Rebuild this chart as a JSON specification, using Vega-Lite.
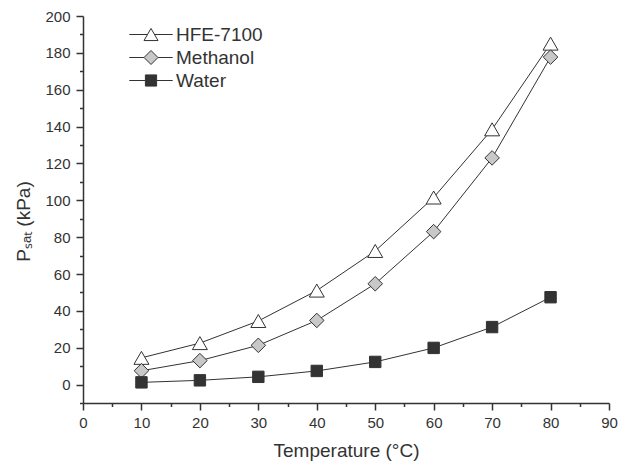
{
  "$schema": "https://vega.github.io/schema/vega-lite/v6.json",
  "width": 526,
  "height": 387,
  "autosize": {"type": "none"},
  "padding": {"left": 83, "top": 16, "right": 18, "bottom": 62},
  "background": "white",
  "config": {
    "view": {"stroke": null},
    "font": "Liberation Sans",
    "axis": {
      "labelFont": "Liberation Sans",
      "titleFont": "Liberation Sans",
      "labelColor": "#333333",
      "titleColor": "#333333",
      "domainColor": "#333333",
      "tickColor": "#333333",
      "grid": false,
      "labelFontSize": 15,
      "titleFontSize": 19,
      "titleFontWeight": "normal",
      "domainWidth": 1.5,
      "tickWidth": 1.5
    }
  },
  "data": {
    "values": [
      {"T": 10, "fluid": "HFE-7100", "P": 14.5},
      {"T": 20, "fluid": "HFE-7100", "P": 22.5},
      {"T": 30, "fluid": "HFE-7100", "P": 34.5},
      {"T": 40, "fluid": "HFE-7100", "P": 51},
      {"T": 50, "fluid": "HFE-7100", "P": 72.5},
      {"T": 60, "fluid": "HFE-7100", "P": 101.5},
      {"T": 70, "fluid": "HFE-7100", "P": 138.5},
      {"T": 80, "fluid": "HFE-7100", "P": 185},
      {"T": 10, "fluid": "Methanol", "P": 7.5},
      {"T": 20, "fluid": "Methanol", "P": 13},
      {"T": 30, "fluid": "Methanol", "P": 21.3},
      {"T": 40, "fluid": "Methanol", "P": 34.8},
      {"T": 50, "fluid": "Methanol", "P": 54.7},
      {"T": 60, "fluid": "Methanol", "P": 83},
      {"T": 70, "fluid": "Methanol", "P": 123},
      {"T": 80, "fluid": "Methanol", "P": 177.7},
      {"T": 10, "fluid": "Water", "P": 1.2},
      {"T": 20, "fluid": "Water", "P": 2.3},
      {"T": 30, "fluid": "Water", "P": 4.2},
      {"T": 40, "fluid": "Water", "P": 7.4},
      {"T": 50, "fluid": "Water", "P": 12.3},
      {"T": 60, "fluid": "Water", "P": 19.9},
      {"T": 70, "fluid": "Water", "P": 31.2},
      {"T": 80, "fluid": "Water", "P": 47.4}
    ]
  },
  "layer": [
    {
      "mark": {"type": "line", "stroke": "#333333", "strokeWidth": 1},
      "encoding": {
        "x": {
          "field": "T", "type": "quantitative",
          "scale": {"domain": [0, 90], "nice": false, "zero": false},
          "axis": {"values": [0, 10, 20, 30, 40, 50, 60, 70, 80, 90], "title": "Temperature (°C)", "tickSize": 7, "labelPadding": 5, "titlePadding": 11, "labelFlush": false}
        },
        "y": {
          "field": "P", "type": "quantitative",
          "scale": {"domain": [-10, 200], "nice": false, "zero": false},
          "axis": {"values": [0, 20, 40, 60, 80, 100, 120, 140, 160, 180, 200], "title": "Pₛₐₜ (kPa)", "tickSize": 7, "labelPadding": 6, "titlePadding": 11, "titleY": 205, "labelFlush": false}
        },
        "detail": {"field": "fluid"}
      }
    },
    {
      "mark": {"type": "point", "filled": true, "size": 1, "opacity": 1, "stroke": "#333333", "strokeWidth": 1},
      "encoding": {
        "x": {"field": "T", "type": "quantitative", "axis": null},
        "y": {"field": "P", "type": "quantitative", "axis": null},
        "shape": {
          "field": "fluid", "type": "nominal",
          "scale": {"domain": ["HFE-7100", "Methanol", "Water"], "range": [
            "M-3.1,0H-0.5M0.5,0H3.1M0,-0.866L1,0.866L-1,0.866Z",
            "M-3.1,0H-1M1,0H3.1M0,-1L1,0L0,1L-1,0Z",
            "M-3.1,0H-0.8M0.8,0H3.1M-0.8,-0.8H0.8V0.8H-0.8Z"
          ]},
          "legend": {"title": null, "orient": "none", "legendX": 58.5, "legendY": 9, "padding": 0, "labelFontSize": 19, "labelColor": "#333333", "labelFont": "Liberation Sans", "symbolSize": 196, "labelOffset": 15.5, "rowPadding": 3, "symbolStrokeWidth": 1, "symbolOpacity": 1}
        },
        "fill": {
          "field": "fluid", "type": "nominal",
          "scale": {"domain": ["HFE-7100", "Methanol", "Water"], "range": ["#ffffff", "#c8c8c8", "#333333"]},
          "legend": {"title": null, "orient": "none", "legendX": 58.5, "legendY": 9, "padding": 0, "labelFontSize": 19, "labelColor": "#333333", "labelFont": "Liberation Sans", "symbolSize": 196, "labelOffset": 15.5, "rowPadding": 3, "symbolStrokeWidth": 1, "symbolOpacity": 1}
        }
      }
    },
    {
      "mark": {"type": "point", "filled": true, "size": 225, "stroke": "#333333", "strokeWidth": 1, "opacity": 1},
      "encoding": {
        "x": {"field": "T", "type": "quantitative",
          "axis": {"orient": "bottom", "values": [5, 15, 25, 35, 45, 55, 65, 75, 85], "tickSize": 3.5, "labels": false, "domain": false, "title": null}},
        "y": {"field": "P", "type": "quantitative",
          "axis": {"orient": "left", "values": [-10, 10, 30, 50, 70, 90, 110, 130, 150, 170, 190], "tickSize": 3.5, "labels": false, "domain": false, "title": null}},
        "shape": {
          "field": "fluid", "type": "nominal",
          "scale": {"domain": ["HFE-7100", "Methanol", "Water"], "range": [
            "M0,-0.866L1,0.866L-1,0.866Z",
            "M0,-0.97L0.97,0L0,0.97L-0.97,0Z",
            "M-0.76,-0.76H0.76V0.76H-0.76Z"
          ]},
          "legend": null
        },
        "fill": {
          "field": "fluid", "type": "nominal",
          "scale": {"domain": ["HFE-7100", "Methanol", "Water"], "range": ["#ffffff", "#c8c8c8", "#333333"]},
          "legend": null
        }
      }
    }
  ],
  "resolve": {
    "scale": {"shape": "independent", "fill": "independent"},
    "axis": {"x": "independent", "y": "independent"}
  }
}
